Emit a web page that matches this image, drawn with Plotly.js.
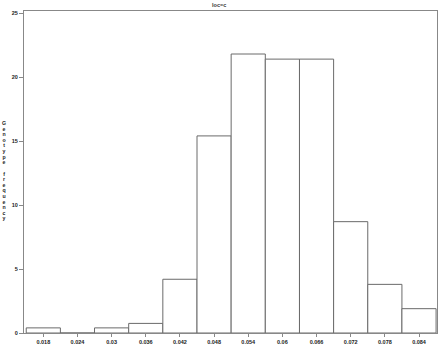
<!DOCTYPE html>
<html>
<head>
<meta charset="utf-8">
<script src="https://cdn.plot.ly/plotly-3.0.1.min.js"></script>
<style>html,body{margin:0;padding:0;background:#fff;}#chart{width:441px;height:350px;}</style>
</head>
<body>
<div id="chart"></div>
<script>
var binCenters = [0.018, 0.024, 0.030, 0.036, 0.042, 0.048, 0.054, 0.060, 0.066, 0.072, 0.078, 0.084];
var frequency = [0.4, 0, 0.4, 0.75, 4.2, 15.4, 21.8, 21.4, 21.4, 8.7, 3.8, 1.9];
var tickLabels = ['0.018','0.024','0.03','0.036','0.042','0.048','0.054','0.06','0.066','0.072','0.078','0.084'];
var yTicks = [0, 5, 10, 15, 20, 25];
var chartTitle = 'loc=c';
var yTitle = 'Genotype frequency';

var fontFam = '"Liberation Sans", Arial, sans-serif';

var trace = {
  type: 'bar',
  x: binCenters,
  y: frequency,
  width: 0.006,
  marker: {color: '#ffffff', line: {color: '#6a6a6a', width: 1}},
  hoverinfo: 'x+y'
};

var layout = {
  width: 441, height: 350,
  margin: {l: 24, r: 4, t: 11, b: 17},
  paper_bgcolor: '#ffffff', plot_bgcolor: '#ffffff',
  showlegend: false,
  bargap: 0,
  title: {text: chartTitle, font: {family: fontFam, size: 5.5, color: '#333', weight: 'bold'}, x: 0.497, xanchor: 'center', y: 0.986, yanchor: 'middle'},
  xaxis: {
    range: [0.01461, 0.08716],
    tickmode: 'array', tickvals: binCenters, ticktext: tickLabels,
    ticks: 'outside', ticklen: 3, tickcolor: '#888', tickwidth: 1,
    showline: true, linecolor: '#888', linewidth: 1, mirror: true,
    showgrid: false, zeroline: false,
    tickfont: {family: fontFam, size: 5.5, color: '#222', weight: 'bold'}
  },
  yaxis: {
    range: [0, 25.16],
    tickmode: 'array', tickvals: yTicks,
    ticks: 'outside', ticklen: 4, tickcolor: '#888', tickwidth: 1,
    showline: true, linecolor: '#888', linewidth: 1, mirror: true,
    showgrid: false, zeroline: false,
    tickfont: {family: fontFam, size: 5.5, color: '#222', weight: 'bold'}
  },
  annotations: [{
    text: yTitle.split('').join('<br>'),
    xref: 'paper', yref: 'paper',
    x: -0.0485, y: 0.473, xanchor: 'center', yanchor: 'middle',
    showarrow: false,
    font: {family: fontFam, size: 5.2, color: '#222', weight: 'bold'}
  }]
};

Plotly.newPlot('chart', [trace], layout, {displayModeBar: false, staticPlot: true}).then(function (gd) {
  var lines = gd.querySelectorAll('.annotation-text tspan.line');
  lines.forEach(function (t) {
    var dy = t.getAttribute('dy');
    if (dy) {
      var v = parseFloat(dy);
      t.setAttribute('dy', (v * 1.08 / 1.3) + 'em');
    }
  });
});
</script>
</body>
</html>
